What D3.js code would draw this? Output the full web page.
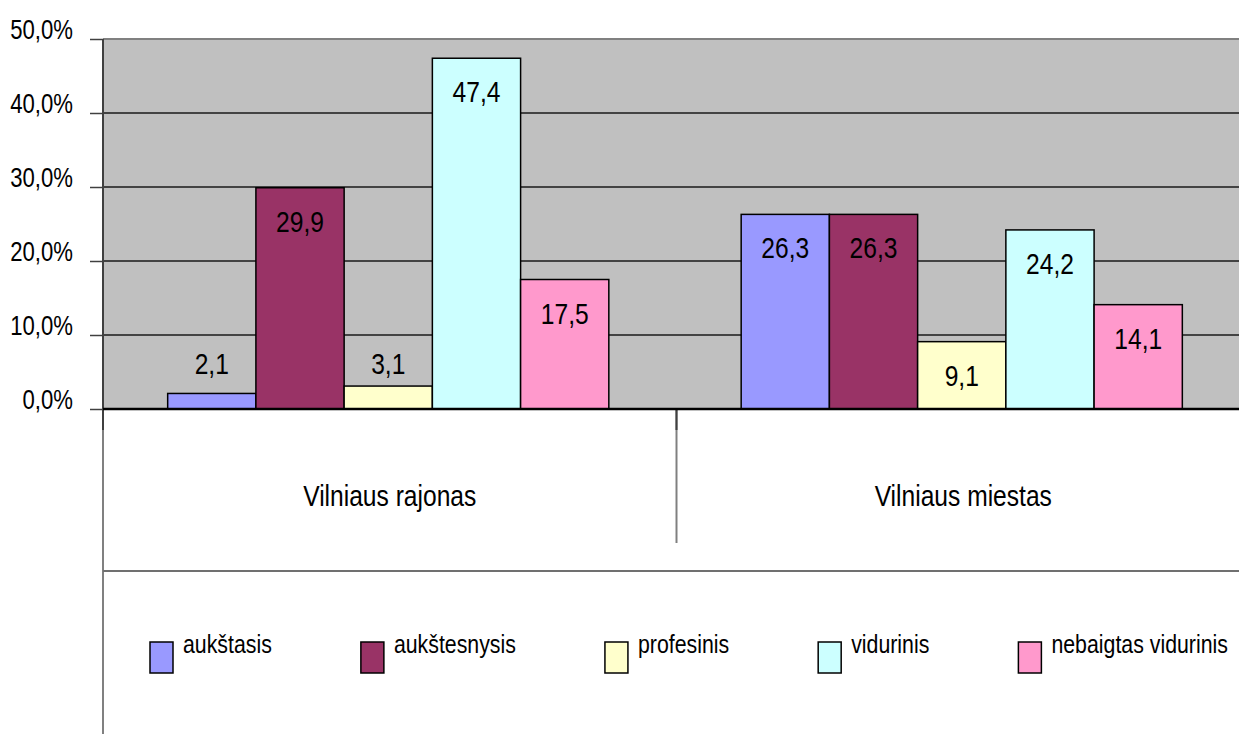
<!DOCTYPE html>
<html>
<head>
<meta charset="utf-8">
<script src="https://cdn.jsdelivr.net/npm/d3@7"></script>
<style>
  html, body { margin: 0; padding: 0; background: #fff; }
  svg text { font-family: "Liberation Sans", Arial, sans-serif; fill: #000; }
</style>
</head>
<body>
<svg id="chart" width="1239" height="734"></svg>
<script>
const categories = ["Vilniaus rajonas", "Vilniaus miestas"];
const seriesNames = ["aukštasis", "aukštesnysis", "profesinis", "vidurinis", "nebaigtas vidurinis"];
const seriesColors = ["#9999FF", "#993366", "#FFFFCC", "#CCFFFF", "#FF99CC"];
// values per series, in category order
const aukstasis = [2.1, 26.3];
const aukstesnysis = [29.9, 26.3];
const profesinis = [3.1, 9.1];
const vidurinis = [47.4, 24.2];
const nebaigtas = [17.5, 14.1];
const seriesValues = [aukstasis, aukstesnysis, profesinis, vidurinis, nebaigtas];
const yTicks = [0, 10, 20, 30, 40, 50];
const fmtTick = d => d.toFixed(1).replace(".", ",") + "%";
const fmtVal = d => d.toFixed(1).replace(".", ",");
const SX = 0.82; // condensed look

function narrow(sel) {
  sel.each(function () {
    const t = d3.select(this);
    const x = +t.attr("x") || 0, yy = +t.attr("y") || 0;
    t.attr("x", 0).attr("y", 0).attr("transform", `translate(${x},${yy}) scale(${SX},1)`);
  });
}

const svg = d3.select("#chart");
const plotLeft = 103, plotTop = 39, plotBottom = 409, bandW = 573.5;
const plotRight = plotLeft + bandW * categories.length;

const y = d3.scaleLinear().domain([0, 50]).range([plotBottom, plotTop]);
const x0 = d3.scaleBand().domain(categories).range([plotLeft - 1.5, plotRight - 1.5]).paddingInner(0).paddingOuter(0);
const x1 = d3.scaleBand().domain(seriesNames).range([0, x0.bandwidth()]).paddingInner(0).paddingOuter(0.75);

// plot background
svg.append("rect").attr("x", plotLeft).attr("y", plotTop)
  .attr("width", plotRight - plotLeft).attr("height", plotBottom - plotTop)
  .attr("fill", "#C0C0C0");

// gridlines
svg.append("g").selectAll("line").data(yTicks.filter(t => t > 0)).join("line")
  .attr("x1", plotLeft).attr("x2", plotRight)
  .attr("y1", d => y(d)).attr("y2", d => y(d))
  .attr("stroke", d => d === 50 ? "#808080" : "#1a1a1a")
  .attr("stroke-width", d => d === 50 ? 2 : 1.3);

// y axis
const yAxis = d3.axisLeft(y).tickValues(yTicks).tickFormat(fmtTick).tickSize(13).tickPadding(17);
const gy = svg.append("g").attr("transform", `translate(${plotLeft},0)`).call(yAxis);
gy.select(".domain").remove();
gy.selectAll(".tick line").attr("stroke", "#404040").attr("stroke-width", 1.5);
gy.selectAll(".tick text").attr("font-size", 27).attr("dy", null).attr("y", -1)
  .style("font-family", '"Liberation Sans", Arial, sans-serif').call(narrow);

// category structure lines
svg.append("line").attr("x1", plotLeft).attr("x2", plotLeft).attr("y1", plotTop).attr("y2", 734)
  .attr("stroke", "#808080").attr("stroke-width", 2);
svg.append("line").attr("x1", plotLeft).attr("x2", plotLeft).attr("y1", plotTop).attr("y2", 430)
  .attr("stroke", "#404040").attr("stroke-width", 2);
categories.slice(1).forEach(c => {
  const xx = x0(c) + 1.5;
  svg.append("line").attr("x1", xx).attr("x2", xx).attr("y1", plotBottom).attr("y2", 543)
    .attr("stroke", "#808080").attr("stroke-width", 2);
  svg.append("line").attr("x1", xx).attr("x2", xx).attr("y1", plotBottom).attr("y2", 430)
    .attr("stroke", "#404040").attr("stroke-width", 2);
});
svg.append("line").attr("x1", plotLeft).attr("x2", 1239).attr("y1", 571).attr("y2", 571)
  .attr("stroke", "#707070").attr("stroke-width", 2);

// bars
const barData = [];
seriesNames.forEach((s, si) => {
  categories.forEach((c, ci) => barData.push({ s, si, c, v: seriesValues[si][ci] }));
});
const gBars = svg.append("g");
gBars.selectAll("rect").data(barData).join("rect")
  .attr("x", d => x0(d.c) + x1(d.s))
  .attr("y", d => y(d.v))
  .attr("width", x1.bandwidth())
  .attr("height", d => y(0) - y(d.v))
  .attr("fill", d => seriesColors[d.si])
  .attr("stroke", "#000").attr("stroke-width", 1.5);

// x axis line
svg.append("line").attr("x1", plotLeft).attr("x2", plotRight).attr("y1", plotBottom).attr("y2", plotBottom)
  .attr("stroke", "#000").attr("stroke-width", 2.5);

// value labels
svg.append("g").selectAll("text").data(barData).join("text")
  .attr("x", d => x0(d.c) + x1(d.s) + x1.bandwidth() / 2)
  .attr("y", d => d.v < 5 ? y(4.7) : y(d.v) + 44)
  .attr("text-anchor", "middle").attr("font-size", 30)
  .text(d => fmtVal(d.v)).call(narrow);

// category labels
svg.append("g").selectAll("text").data(categories).join("text")
  .attr("x", d => x0(d) + x0.bandwidth() / 2 + 1.5)
  .attr("y", 506).attr("text-anchor", "middle").attr("font-size", 30)
  .text(d => d).call(narrow);

// legend
const gLeg = svg.append("g");
let lx = 150;
seriesNames.forEach((s, i) => {
  gLeg.append("rect").attr("x", lx).attr("y", 642).attr("width", 23).attr("height", 31)
    .attr("fill", seriesColors[i]).attr("stroke", "#000").attr("stroke-width", 1.5);
  const t = gLeg.append("text").attr("x", lx + 33).attr("y", 653).attr("font-size", 26).text(s);
  const w = t.node().getComputedTextLength() * SX;
  t.call(narrow);
  lx = lx + 33 + w + 89;
});
</script>
</body>
</html>
